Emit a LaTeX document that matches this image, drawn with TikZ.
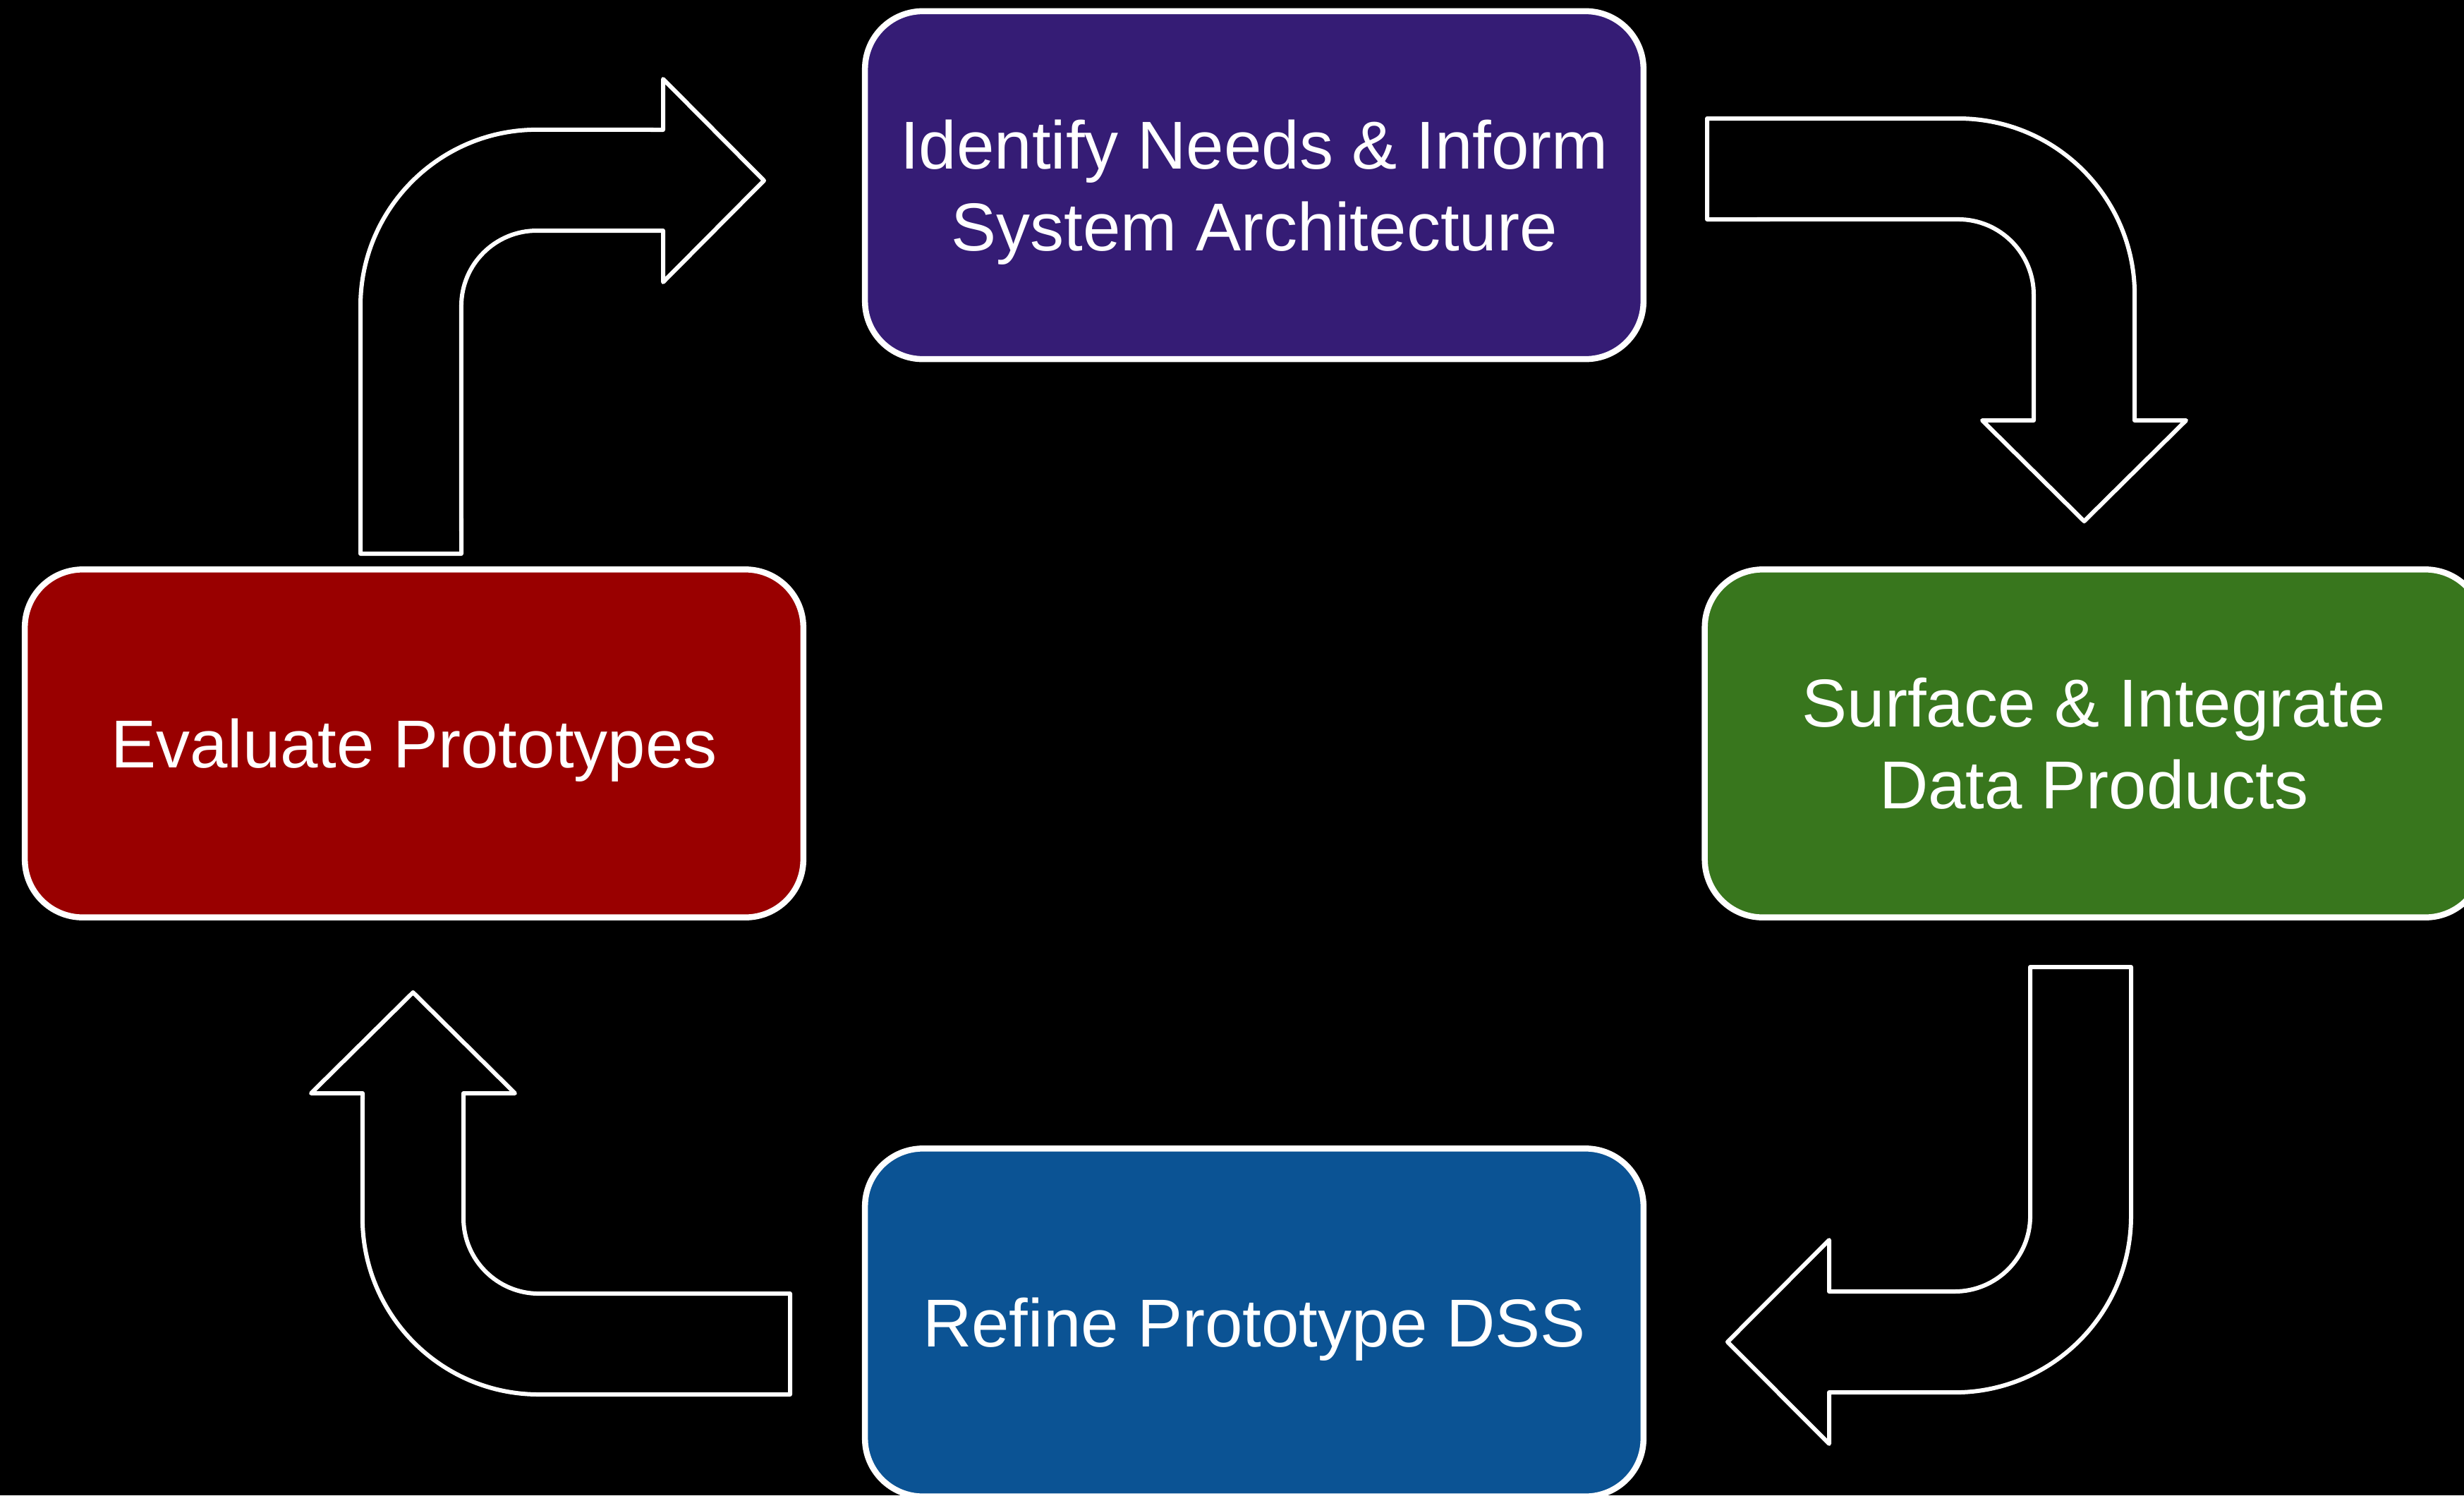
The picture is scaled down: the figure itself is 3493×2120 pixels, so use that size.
\documentclass[tikz,border=0pt]{standalone}
\usepackage{fontspec}
\setmainfont{Liberation Sans}
\definecolor{idpurple}{HTML}{351C75}
\definecolor{sfgreen}{HTML}{38761D}
\definecolor{evred}{HTML}{990000}
\definecolor{rfblue}{HTML}{0B5394}
\newcommand{\twoline}[2]{\raisebox{0pt}[1.85cm][0pt]{\begin{tabular}[b]{@{}c@{}}#1\\#2\end{tabular}}}
\newcommand{\oneline}[1]{\raisebox{0pt}[0.69cm][0pt]{#1}}
\begin{document}
\begin{tikzpicture}[x=0.01cm, y=-0.01cm,
  stagebox/.style={rectangle, rounded corners=0.82cm, draw=white, line width=0.085cm,
    minimum width=11.03cm, minimum height=4.93cm, inner sep=0pt, text=white,
    font=\fontsize{27.31}{33}\selectfont},
  bentarrow/.style={draw=white, line width=0.06cm, line join=round}]
\useasboundingbox (0,0) rectangle (3493,2120);
\fill[black] (0,0) rectangle (3493,2120);
\clip (0,0) rectangle (3493,2120);

\node[stagebox, fill=idpurple] (ident) at (1778,262.5) {\twoline{Identify Needs \& Inform}{System Architecture}};
\node[stagebox, fill=sfgreen] (surface) at (2968.5,1054) {\twoline{Surface \& Integrate}{Data Products}};
\node[stagebox, fill=evred] (eval) at (587,1054) {\oneline{Evaluate Prototypes}};
\node[stagebox, fill=rfblue] (refine) at (1778,1875) {\oneline{Refine Prototype DSS}};

% top-left arrow: Evaluate -> Identify
\draw[bentarrow] (511,785) -- (511,434) arc[start angle=180, end angle=90, radius=2.5cm]
  -- (940,184) -- (940,112) -- (1083,256) -- (940,400) -- (940,327) -- (761,327)
  arc[start angle=90, end angle=180, radius=1.07cm] -- (654,785) -- cycle;

% top-right arrow: Identify -> Surface
\draw[bentarrow] (2420,168) -- (2776,168) arc[start angle=90, end angle=0, radius=2.5cm]
  -- (3026,596) -- (3099,596) -- (2954.5,739) -- (2810,596) -- (2883,596) -- (2883,418)
  arc[start angle=0, end angle=90, radius=1.07cm] -- (2420,311) -- cycle;

% bottom-right arrow: Surface -> Refine
\draw[bentarrow] (2878,1371) -- (3021,1371) -- (3021,1724) arc[start angle=0, end angle=-90, radius=2.5cm]
  -- (2593,1974) -- (2593,2047) -- (2449,1902.5) -- (2593,1758) -- (2593,1831) -- (2771,1831)
  arc[start angle=-90, end angle=0, radius=1.07cm] -- cycle;

% bottom-left arrow: Refine -> Evaluate
\draw[bentarrow] (1120,1977) -- (764,1977) arc[start angle=-90, end angle=-180, radius=2.5cm]
  -- (514,1550) -- (441,1550) -- (585.5,1407) -- (730,1550) -- (657,1550) -- (657,1727)
  arc[start angle=180, end angle=270, radius=1.07cm] -- (1120,1834) -- cycle;
\end{tikzpicture}
\end{document}
